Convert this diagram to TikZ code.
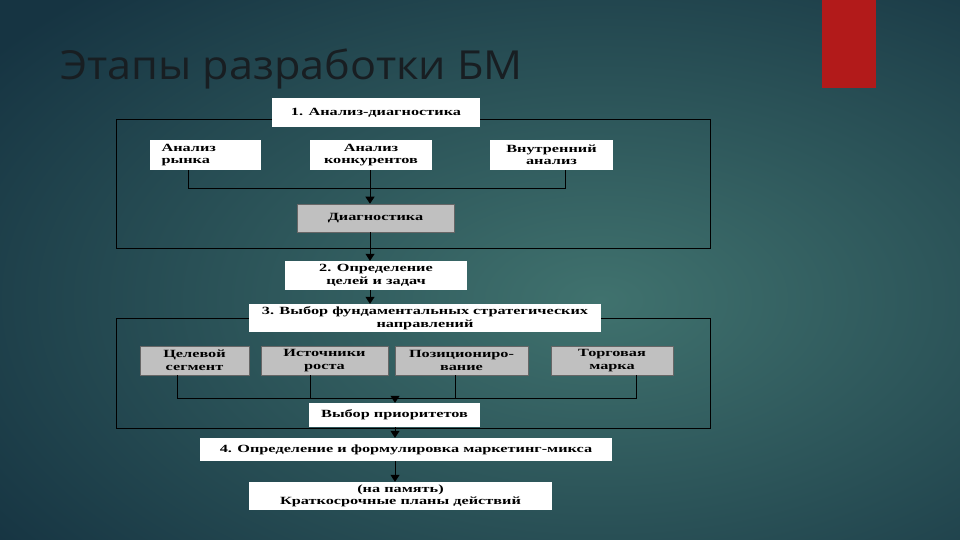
\documentclass[tikz,border=0pt]{standalone}
\usepackage{fontspec}
\usetikzlibrary{arrows.meta}
\newfontfamily\boxfont[FakeStretch=1.48]{Liberation Serif}
\newfontfamily\titlefont[FakeStretch=1.08]{Open Sans}
\definecolor{bgin}{RGB}{64,114,110}
\definecolor{bgout}{RGB}{22,52,66}
\definecolor{redbar}{RGB}{178,26,26}
\definecolor{titlecol}{RGB}{24,30,34}
\definecolor{graybox}{RGB}{192,192,192}
\tikzset{
  wbox/.style={fill=white, inner sep=0pt, align=center, font=\boxfont\bfseries\fontsize{11}{12.5}\selectfont, text=black},
  gbox/.style={wbox, fill=graybox, draw=gray!80!black, line width=0.6pt},
  frame/.style={draw=black, line width=1pt},
  conn/.style={draw=black, line width=1pt},
  arr/.style={conn, -{Triangle[width=9pt,length=7pt]}}
}
\begin{document}
\begin{tikzpicture}[x=1pt,y=-1pt]
\useasboundingbox (0,0) rectangle (960,540);
\begin{scope}
\clip (0,0) rectangle (960,540);
\shade[inner color=bgin, outer color=bgout] (-150,-120) rectangle (1350,720);
\end{scope}
\fill[redbar] (822,0) rectangle (876,88);
\node[anchor=base west, inner sep=0pt, font=\titlefont\fontsize{40}{44}\selectfont, text=titlecol] (title) at (60,80) {Этапы разработки БМ};

% frames
\draw[frame] (116,120) rectangle (710,248);
\draw[frame] (116,318) rectangle (710,428);

% stage 1
\node[wbox, minimum width=208pt, minimum height=29pt] (b1) at (376,112.5) {\raisebox{-3pt}{1. Анализ-диагностика}};
\node[wbox, minimum width=111pt, minimum height=30pt, align=left] (a1) at (205.5,155) {\makebox[88pt][l]{Анализ}\\\makebox[88pt][l]{рынка}};
\node[wbox, minimum width=122pt, minimum height=30pt] (a2) at (371,155) {Анализ\\конкурентов};
\node[wbox, minimum width=123pt, minimum height=30pt] (a3) at (551.5,155) {Внутренний\\анализ};
\node[gbox, minimum width=157pt, minimum height=28pt] (diag) at (375.5,218) {\raisebox{2pt}{Диагностика}};

% stage 2, 3
\node[wbox, minimum width=182pt, minimum height=29pt] (b2) at (376,275.5) {2. Определение\\целей и задач};
\node[wbox, minimum width=352pt, minimum height=28pt] (b3) at (425,318) {3. Выбор фундаментальных стратегических\\направлений};
\node[gbox, minimum width=109pt, minimum height=29pt] (c1) at (194.5,360.5) {Целевой\\сегмент};
\node[gbox, minimum width=127pt, minimum height=29pt] (c2) at (324.5,360.5) {Источники\\роста};
\node[gbox, minimum width=133pt, minimum height=29pt] (c3) at (461.5,360.5) {Позициониро-\\вание};
\node[gbox, minimum width=122pt, minimum height=29pt] (c4) at (612,360.5) {Торговая\\марка};
\node[wbox, minimum width=171pt, minimum height=24pt] (prio) at (394.5,415) {Выбор приоритетов};
\node[wbox, minimum width=412pt, minimum height=23pt] (b4) at (406,449.5) {4. Определение и формулировка маркетинг-микса};
\node[wbox, minimum width=303pt, minimum height=28pt] (b5) at (400.5,496) {(на память)\\Краткосрочные планы действий};

% connectors stage 1
\coordinate (j1l) at (188,188);
\coordinate (j1r) at (565,188);
\coordinate (j1m) at (370,188);
\draw[conn] (a1.south -| j1l) -- (j1l) -- (j1r) -- (a3.south -| j1r);
\draw[arr] (a2.south -| j1m) -- (diag.north -| j1m);
\draw[arr] (diag.south -| j1m) -- (b2.north -| j1m);
\draw[arr] (b2.south -| j1m) -- (b3.north -| j1m);

% connectors stage 3
\coordinate (k1) at (177,398);
\coordinate (k2) at (310,398);
\coordinate (k3) at (455,398);
\coordinate (k4) at (636,398);
\coordinate (km) at (395,398);
\draw[conn] (c1.south -| k1) -- (k1) -- (k4) -- (c4.south -| k4);
\draw[conn] (c2.south -| k2) -- (k2);
\draw[conn] (c3.south -| k3) -- (k3);
\draw[arr] (km) -- (prio.north -| km);
\draw[arr] (prio.south -| km) -- (b4.north -| km);
\draw[arr] (b4.south -| km) -- (b5.north -| km);
\end{tikzpicture}
\end{document}
